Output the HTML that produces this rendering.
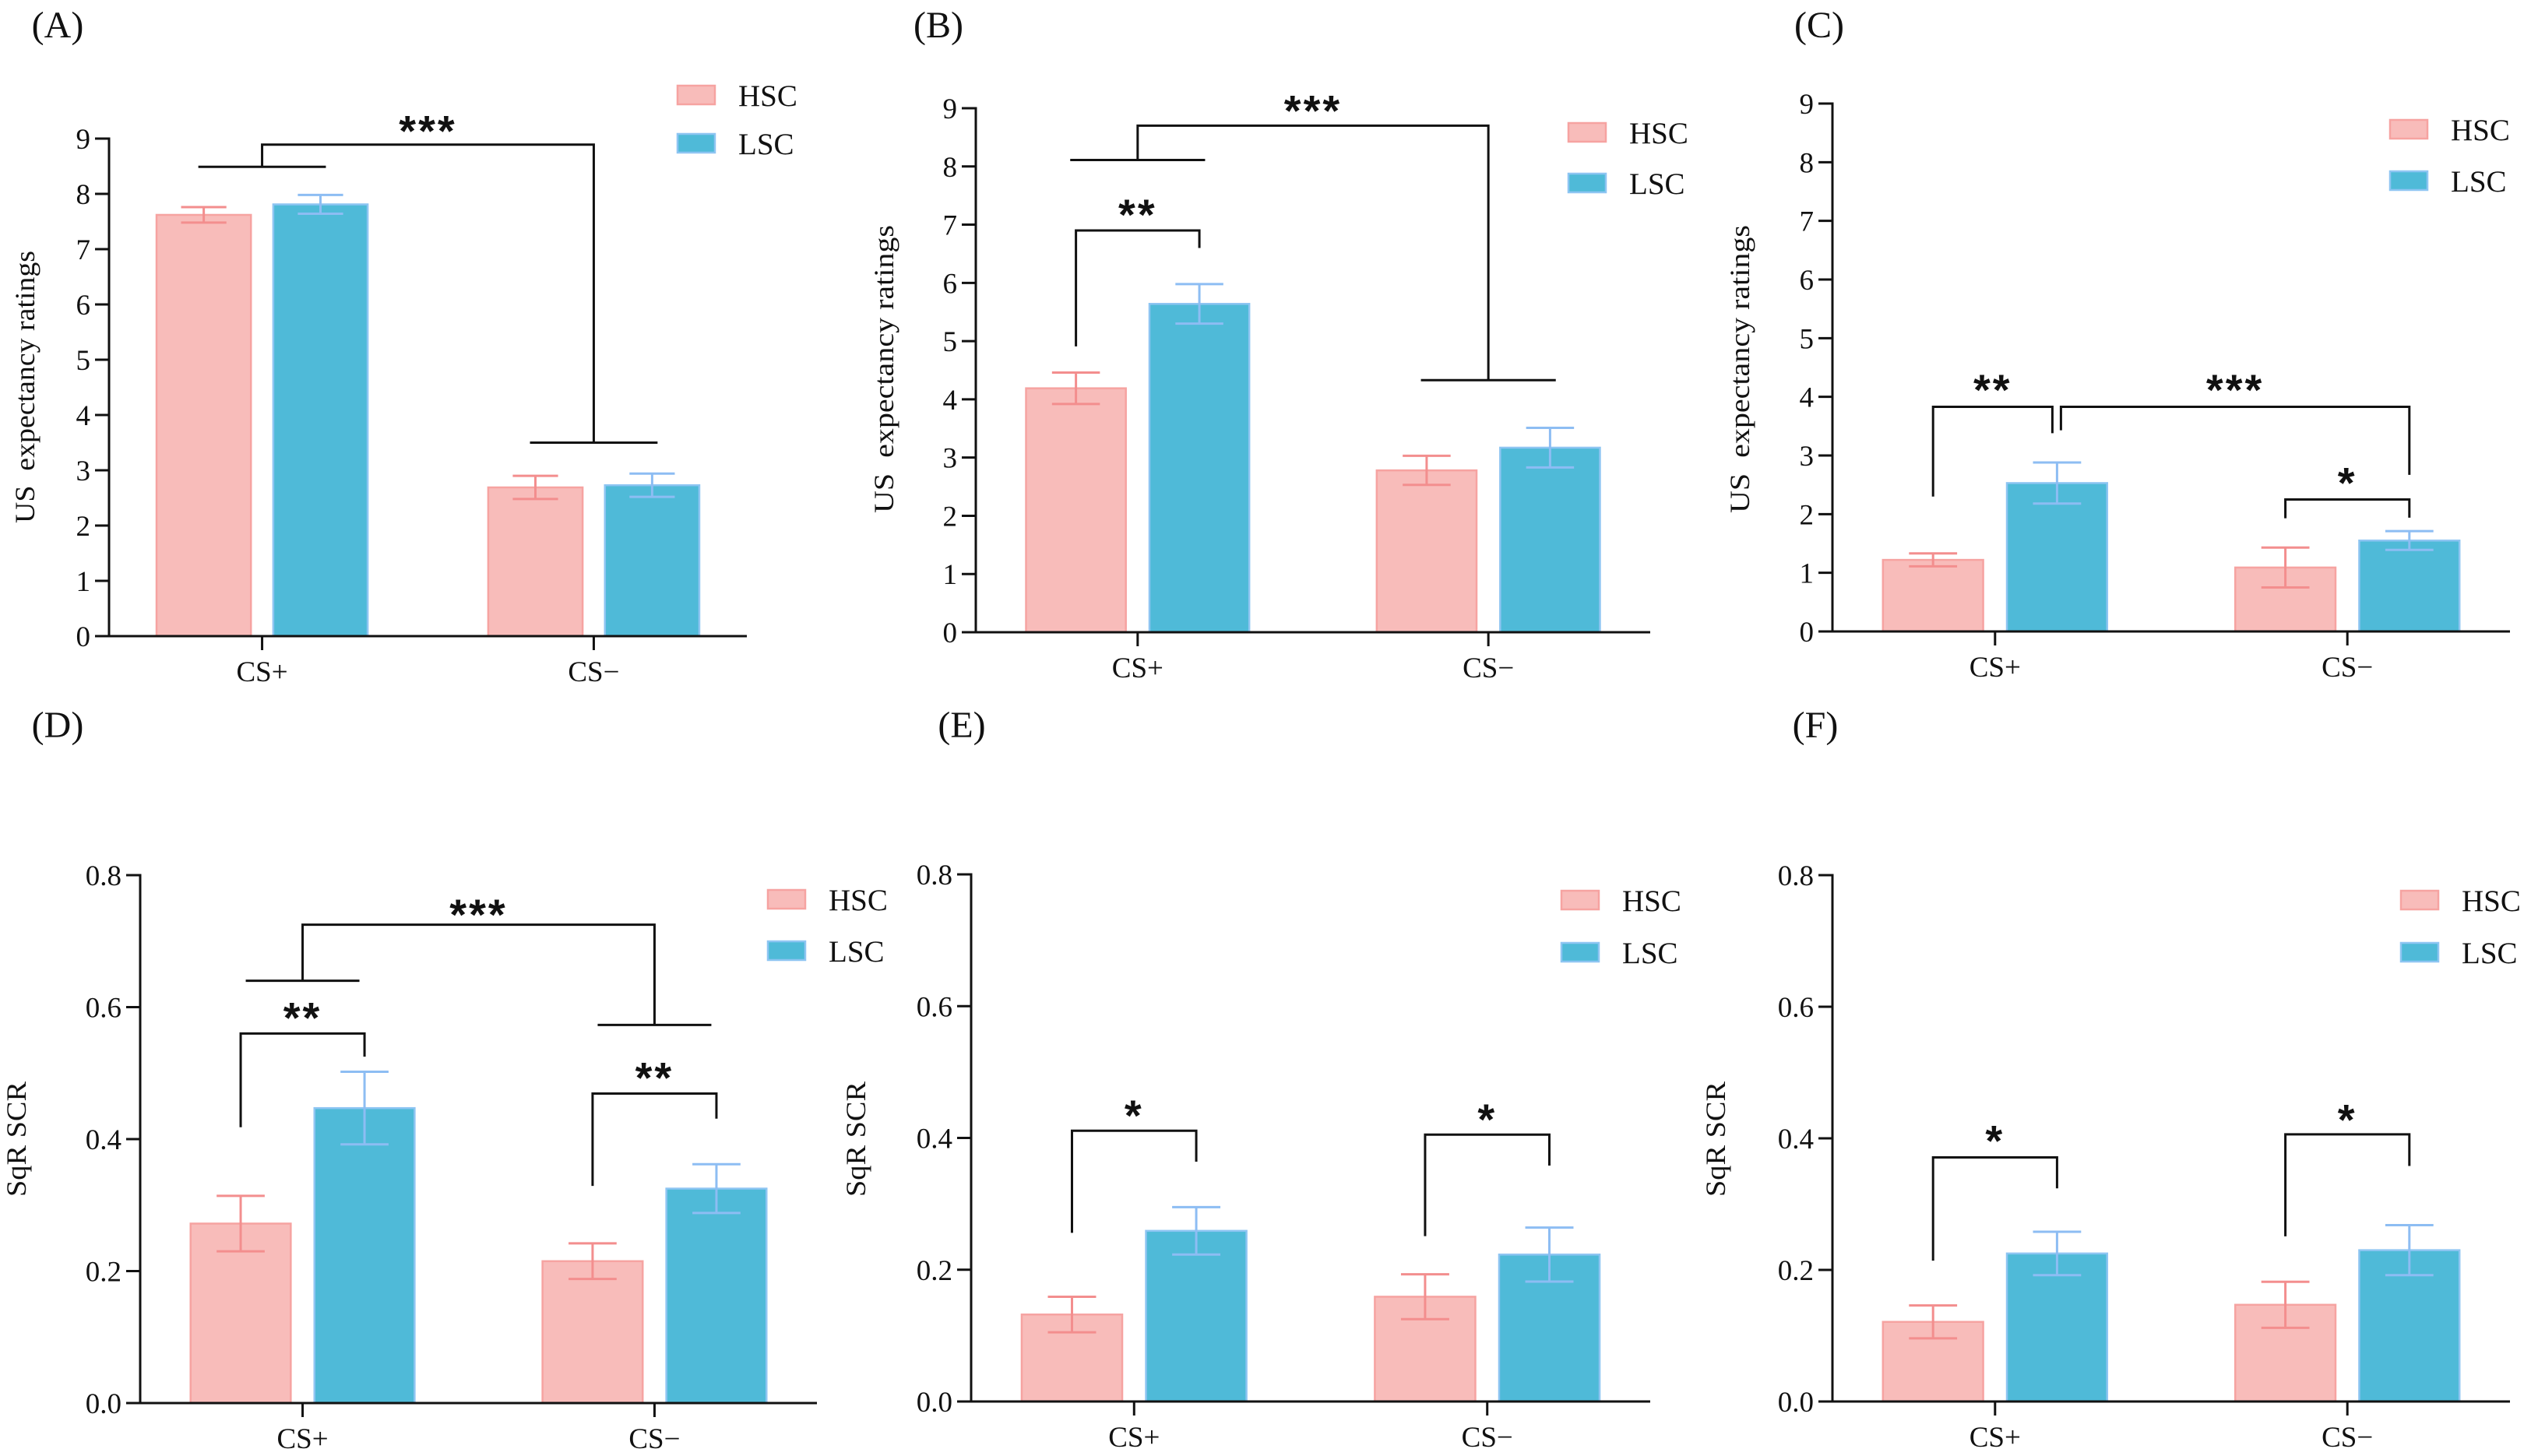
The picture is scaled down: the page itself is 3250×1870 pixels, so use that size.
<!DOCTYPE html>
<html><head><meta charset="utf-8"><style>
html,body{margin:0;padding:0;background:#fff;}
svg{display:block;}
text{font-family:"Liberation Serif","Times New Roman",serif;fill:#111;}
.star{font-family:"Liberation Sans",Arial,sans-serif;font-weight:bold;}
</style></head><body>
<svg id="fig" width="3250" height="1870" viewBox="0 0 3250 1870" xmlns="http://www.w3.org/2000/svg"></svg>
<script>
const categories = ['CS+', 'CS\u2212'];
const seriesNames = ['HSC', 'LSC'];
const usTicks = [0,1,2,3,4,5,6,7,8,9];
const scrTicks = [0.0,0.2,0.4,0.6,0.8];
const scrTickLabels = ['0.0','0.2','0.4','0.6','0.8'];

const aHsc = [7.62, 2.69];
const aHscSem = [0.14, 0.21];
const aLsc = [7.81, 2.73];
const aLscSem = [0.17, 0.21];

const bHsc = [4.19, 2.78];
const bHscSem = [0.27, 0.25];
const bLsc = [5.64, 3.17];
const bLscSem = [0.34, 0.34];

const cHsc = [1.22, 1.09];
const cHscSem = [0.11, 0.34];
const cLsc = [2.53, 1.55];
const cLscSem = [0.35, 0.16];

const dHsc = [0.272, 0.215];
const dHscSem = [0.042, 0.027];
const dLsc = [0.447, 0.325];
const dLscSem = [0.055, 0.037];

const eHsc = [0.132, 0.159];
const eHscSem = [0.027, 0.034];
const eLsc = [0.259, 0.223];
const eLscSem = [0.036, 0.041];

const fHsc = [0.121, 0.147];
const fHscSem = [0.025, 0.035];
const fLsc = [0.225, 0.230];
const fLscSem = [0.033, 0.038];

const aGroupBracket = {top: 8.89, left: 8.49, right: 3.5, label: '***', labelY: 9.32};
const bGroupBracket = {top: 8.7, left: 8.11, right: 4.33, label: '***', labelY: 9.13};
const bPairBrackets = [{g: 0, top: 6.9, left: 4.91, right: 6.6, label: '**', labelY: 7.34}];
const cPairBrackets = [
  {g: 0, top: 3.83, left: 2.3, right: 3.38, label: '**', labelY: 4.29},
  {g: 1, top: 2.25, left: 1.93, right: 1.94, label: '*', labelY: 2.7}
];
const cCrossBracket = {top: 3.83, left: 3.43, right: 2.67, label: '***', labelY: 4.29};
const dGroupBracket = {top: 0.725, left: 0.64, right: 0.573, label: '***', labelY: 0.755};
const dPairBrackets = [
  {g: 0, top: 0.56, left: 0.418, right: 0.525, label: '**', labelY: 0.599},
  {g: 1, top: 0.469, left: 0.329, right: 0.431, label: '**', labelY: 0.508}
];
const ePairBrackets = [
  {g: 0, top: 0.411, left: 0.256, right: 0.364, label: '*', labelY: 0.449},
  {g: 1, top: 0.405, left: 0.251, right: 0.358, label: '*', labelY: 0.443}
];
const fPairBrackets = [
  {g: 0, top: 0.371, left: 0.214, right: 0.324, label: '*', labelY: 0.411},
  {g: 1, top: 0.406, left: 0.251, right: 0.358, label: '*', labelY: 0.443}
];

const NS = 'http://www.w3.org/2000/svg';
const svg = document.getElementById('fig');
const COL = {hscFill:'#f8bcba', hscStroke:'#f6a3a1', hscErr:'#f38e8e', lscFill:'#4fbad8', lscStroke:'#8ec5f2', lscErr:'#8dbdf3'};

function mk(tag, attrs, parent) {
  const e = document.createElementNS(NS, tag);
  for (const k in attrs) e.setAttribute(k, attrs[k]);
  (parent || svg).appendChild(e);
  return e;
}

function drawPanel(P) {
  const g = mk('g', {});
  
  
  const W = P.x1 - P.x0;
  const yS = v => P.y0 - (v / P.max) * (P.y0 - P.yTop);
  const gx = i => P.x0 + W * (i === 0 ? 0.24 : 0.76);
  const bx = (i, s) => gx(i) + (s === 0 ? -1 : 1) * W * 0.0915;
  const bw = W * 0.148;

  const pl = mk('text', {x: P.lab[0], y: P.lab[1] + 16, 'font-size': 48, 'text-anchor': 'middle'}, g);
  pl.textContent = '(' + P.id + ')';
  
  

  const yt = mk('text', {x: 0, y: 0, 'font-size': 36, 'text-anchor': 'middle', transform: `translate(${P.yt[0] + 12},${P.yt[1]}) rotate(-90)`, textLength: P.ytLen, lengthAdjust: 'spacingAndGlyphs'}, g);
  yt.textContent = P.title;
  
  

  [[P.hsc, P.hscSem, 0], [P.lsc, P.lscSem, 1]].forEach(([vals, sems, s]) => {
    vals.forEach((v, i) => {
      const cx = bx(i, s);
      const r = mk('rect', {x: cx - bw / 2, y: yS(v), width: bw, height: P.y0 - yS(v), fill: s ? COL.lscFill : COL.hscFill, stroke: s ? COL.lscStroke : COL.hscStroke, 'stroke-width': 2.5}, g);
      
      
      const ec = s ? COL.lscErr : COL.hscErr;
      const hi = yS(v + sems[i]), lo = yS(v - sems[i]), cw = bw * 0.24;
      const eb = mk('path', {d: `M${cx},${lo}V${hi}M${cx - cw},${hi}H${cx + cw}M${cx - cw},${lo}H${cx + cw}`, stroke: ec, 'stroke-width': 3, fill: 'none'}, g);
      
      
    });
  });

  const ax = mk('path', {d: `M${P.x0},${P.yTop - 1.5}V${P.y0}H${P.x1}`, stroke: '#111', 'stroke-width': 3, fill: 'none'}, g);
  
  
  P.ticks.forEach((t, k) => {
    const y = yS(t);
    const tk = mk('line', {x1: P.x0 - 18, x2: P.x0, y1: y, y2: y, stroke: '#111', 'stroke-width': 3}, g);
    
    
    const tl = mk('text', {x: P.x0 - 24, y: y + 13, 'font-size': 37, 'text-anchor': 'end'}, g);
    tl.textContent = P.tickLabels[k];
    
    
  });
  categories.forEach((c, i) => {
    const x = gx(i);
    const tk = mk('line', {x1: x, x2: x, y1: P.y0, y2: P.y0 + 18, stroke: '#111', 'stroke-width': 3}, g);
    
    
    const tl = mk('text', {x: x, y: P.y0 + 58, 'font-size': 37, 'text-anchor': 'middle'}, g);
    tl.textContent = c;
    
    
  });

  seriesNames.forEach((n, s) => {
    const ly = P.leg[1] + s * P.legGap;
    const sw = mk('rect', {x: P.leg[0], y: ly, width: 48, height: 24, fill: s ? COL.lscFill : COL.hscFill, stroke: s ? COL.lscStroke : COL.hscStroke, 'stroke-width': 2.5}, g);
    
    
    const lt = mk('text', {x: P.leg[0] + 78, y: ly + 26, 'font-size': 39}, g);
    lt.textContent = n;
    
    
  });

  function star(x, yv, label) {
    const t = mk('text', {x: x, y: yS(yv) + 32, 'font-size': 56, 'text-anchor': 'middle', 'letter-spacing': 3, class: 'star'}, g);
    t.textContent = label;
    
    
  }
  function line(d) {
    const p = mk('path', {d: d, stroke: '#111', 'stroke-width': 3, fill: 'none'}, g);
    
    
  }
  (P.pairs || []).forEach(b => {
    const xl = bx(b.g, 0) + (b.dl || 0), xr = bx(b.g, 1) + (b.dr || 0);
    line(`M${xl},${yS(b.left)}V${yS(b.top)}H${xr}V${yS(b.right)}`);
    star((xl + xr) / 2, b.labelY, b.label);
  });
  if (P.group) {
    const b = P.group, hw = W * P.capHw;
    const xl = gx(0), xr = gx(1);
    line(`M${xl},${yS(b.left)}V${yS(b.top)}H${xr}V${yS(b.right)}`);
    line(`M${xl - hw},${yS(b.left)}H${xl + hw}M${xr - hw},${yS(b.right)}H${xr + hw}`);
    star((xl + xr) / 2, b.labelY, b.label);
  }
  if (P.cross) {
    const b = P.cross, xl = bx(0, 1) + 5, xr = bx(1, 1);
    line(`M${xl},${yS(b.left)}V${yS(b.top)}H${xr}V${yS(b.right)}`);
    star((xl + xr) / 2, b.labelY, b.label);
  }
}

const usLabels = usTicks.map(String);
const US = 'US\u00a0\u00a0expectancy ratings';
drawPanel({id:'A', x0:140, x1:959, yTop:178, y0:817, max:9, ticks:usTicks, tickLabels:usLabels, hsc:aHsc, hscSem:aHscSem, lsc:aLsc, lscSem:aLscSem, lab:[74,32], yt:[32,497], title:US, ytLen:350, leg:[870,110], legGap:62, group:aGroupBracket, capHw:0.1});
drawPanel({id:'B', x0:1253, x1:2119, yTop:139, y0:812, max:9, ticks:usTicks, tickLabels:usLabels, hsc:bHsc, hscSem:bHscSem, lsc:bLsc, lscSem:bLscSem, lab:[1205,32], yt:[1135,474], title:US, ytLen:370, leg:[2014,158], legGap:65, group:bGroupBracket, capHw:0.1, pairs:bPairBrackets});
drawPanel({id:'C', x0:2353, x1:3223, yTop:133, y0:811, max:9, ticks:usTicks, tickLabels:usLabels, hsc:cHsc, hscSem:cHscSem, lsc:cLsc, lscSem:cLscSem, lab:[2336,32], yt:[2234,474], title:US, ytLen:370, leg:[3069,154], legGap:66, pairs:[Object.assign({dr:-6}, cPairBrackets[0]), cPairBrackets[1]], cross:cCrossBracket});
drawPanel({id:'D', x0:180, x1:1049, yTop:1124, y0:1802, max:0.8, ticks:scrTicks, tickLabels:scrTickLabels, hsc:dHsc, hscSem:dHscSem, lsc:dLsc, lscSem:dLscSem, lab:[74,931], yt:[21,1463], title:'SqR SCR', ytLen:148, leg:[986,1143], legGap:66, group:dGroupBracket, capHw:0.084, pairs:dPairBrackets});
drawPanel({id:'E', x0:1247, x1:2119, yTop:1123, y0:1800, max:0.8, ticks:scrTicks, tickLabels:scrTickLabels, hsc:eHsc, hscSem:eHscSem, lsc:eLsc, lscSem:eLscSem, lab:[1235,931], yt:[1099,1463], title:'SqR SCR', ytLen:148, leg:[2005,1144], legGap:67, pairs:ePairBrackets});
drawPanel({id:'F', x0:2353, x1:3223, yTop:1124, y0:1800, max:0.8, ticks:scrTicks, tickLabels:scrTickLabels, hsc:fHsc, hscSem:fHscSem, lsc:fLsc, lscSem:fLscSem, lab:[2331,931], yt:[2203,1463], title:'SqR SCR', ytLen:148, leg:[3083,1144], legGap:67, pairs:fPairBrackets});
</script>
</body></html>
